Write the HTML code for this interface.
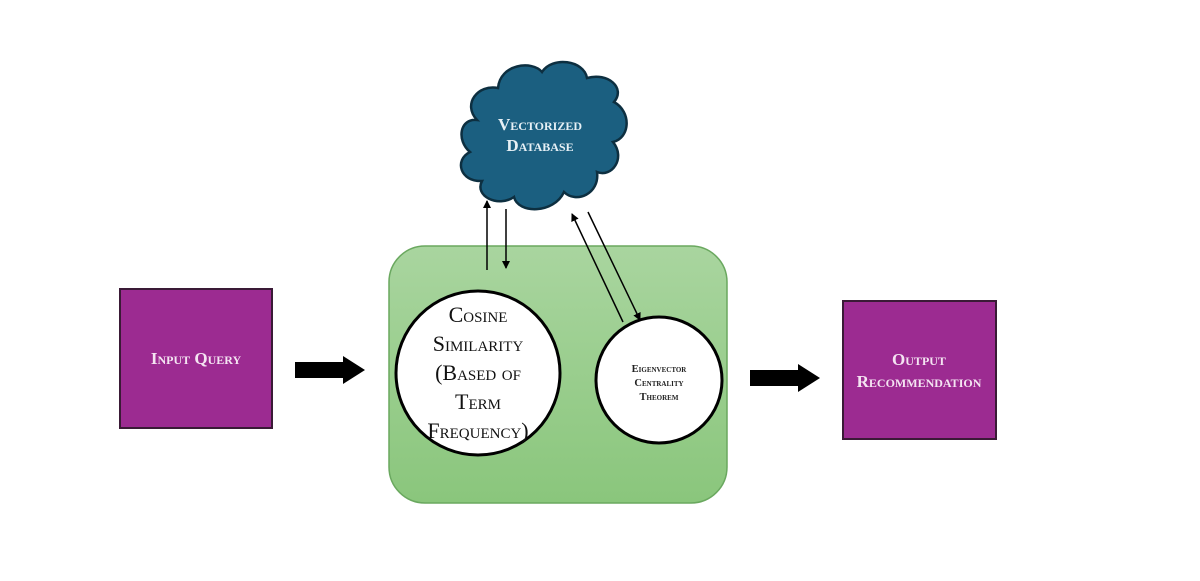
<!DOCTYPE html>
<html><head><style>
body{margin:0;background:#fff;width:1200px;height:576px;overflow:hidden}
svg text{font-family:"Liberation Serif",serif;font-variant:small-caps;text-anchor:middle}
</style></head><body>
<svg width="1200" height="576" viewBox="0 0 1200 576" xmlns="http://www.w3.org/2000/svg">
<defs>
<linearGradient id="g" x1="0" y1="0" x2="0" y2="1"><stop offset="0" stop-color="#a9d59f"/><stop offset="1" stop-color="#8ac67c"/></linearGradient>
<marker id="ah" markerWidth="8" markerHeight="8" refX="7" refY="4" orient="auto" markerUnits="userSpaceOnUse"><path d="M0,0 L8,4 L0,8 z" fill="#000"/></marker>
</defs>
<rect x="120" y="289" width="152" height="139" fill="#9c2b91" stroke="#3a1a36" stroke-width="2"/>
<text x="196" y="364" font-size="17" font-weight="bold" fill="#f4e4f2">Input Query</text>
<path d="M295,362 H343 V356 L365,370 L343,384 V378 H295 z" fill="#000"/>
<rect x="389" y="246" width="338" height="257" rx="36" fill="url(#g)" stroke="#6aa85f" stroke-width="1.5"/>
<circle cx="478" cy="373" r="82" fill="#fff" stroke="#000" stroke-width="3"/>
<text font-size="22" fill="#111" textLength="0"><tspan x="478" y="322">Cosine</tspan><tspan x="478" y="351">Similarity</tspan><tspan x="478" y="380">(Based of</tspan><tspan x="478" y="409">Term</tspan><tspan x="478" y="438">Frequency)</tspan></text>
<circle cx="659" cy="380" r="63" fill="#fff" stroke="#000" stroke-width="3"/>
<text font-size="10.5" font-weight="bold" fill="#222"><tspan x="659" y="372">Eigenvector</tspan><tspan x="659" y="386">Centrality</tspan><tspan x="659" y="400">Theorem</tspan></text>
<path d="M498,88 C500,64 532,60 542,72 C552,56 584,60 587,78 C608,72 626,88 614,102 C632,112 630,138 613,142 C626,158 612,178 597,172 C600,194 576,204 564,192 C554,214 518,214 514,197 C498,208 474,196 482,181 C460,182 454,160 470,152 C456,140 460,118 477,120 C462,104 478,84 498,88 z" fill="#1b5f80" stroke="#0d2f40" stroke-width="2.5"/>
<text font-size="17" font-weight="bold" fill="#e6f0f5"><tspan x="540" y="130">Vectorized</tspan><tspan x="540" y="151">Database</tspan></text>
<g stroke="#000" stroke-width="1.5" fill="none">
<line x1="487" y1="270" x2="487" y2="201" marker-end="url(#ah)"/>
<line x1="506" y1="209" x2="506" y2="268" marker-end="url(#ah)"/>
<line x1="623" y1="322" x2="572" y2="214" marker-end="url(#ah)"/>
<line x1="588" y1="212" x2="640" y2="320" marker-end="url(#ah)"/>
</g>
<path d="M750,370 H798 V364 L820,378 L798,392 V386 H750 z" fill="#000"/>
<rect x="843" y="301" width="153" height="138" fill="#9c2b91" stroke="#3a1a36" stroke-width="2"/>
<text font-size="17" font-weight="bold" fill="#f4e4f2"><tspan x="919" y="365">Output</tspan><tspan x="919" y="387">Recommendation</tspan></text>
</svg>
</body></html>
